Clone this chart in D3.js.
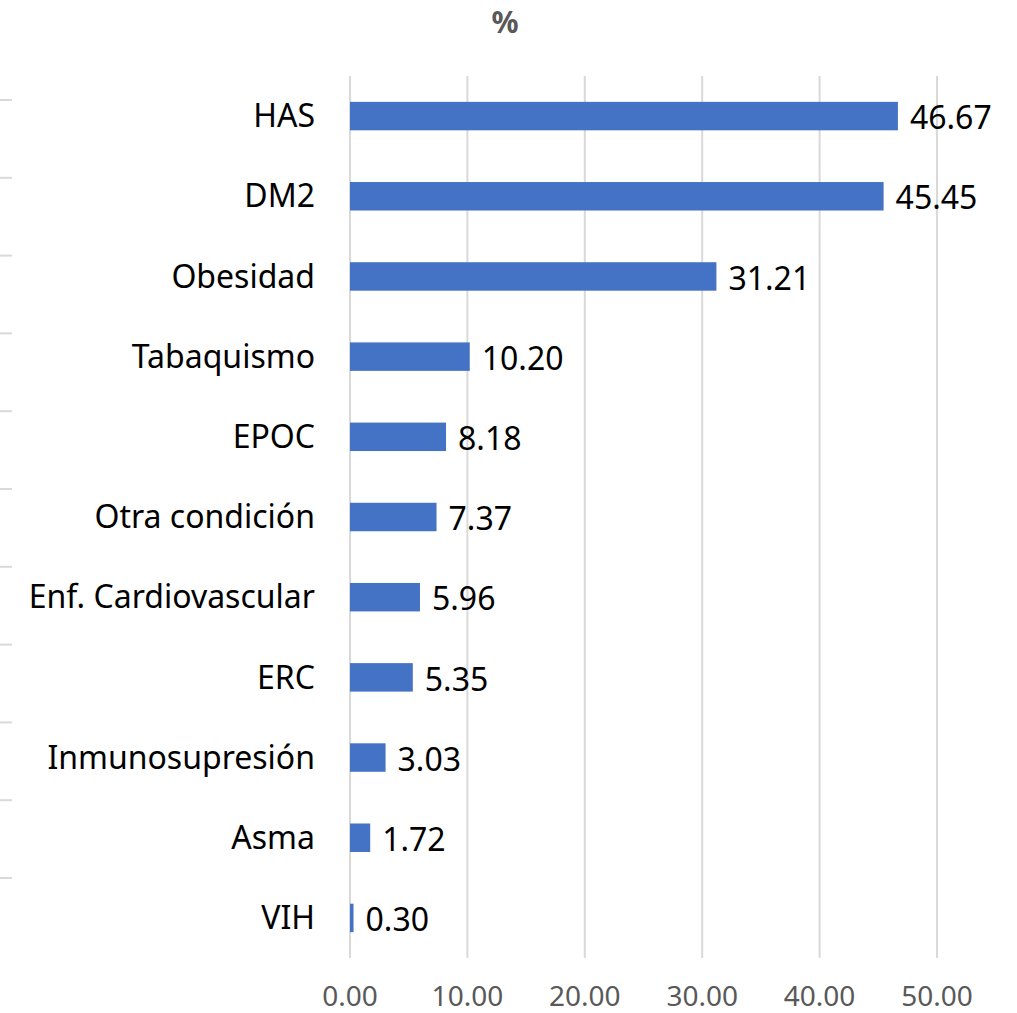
<!DOCTYPE html>
<html lang="es">
<head>
  <meta charset="UTF-8">
  <title>%</title>
  <script src="https://d3js.org/d3.v7.min.js"></script>
  <style>
    body { margin: 0; background: #fff; }
    text { font-family: "Noto Sans", "Open Sans", sans-serif; }
    .grid line { stroke: #d9d9d9; stroke-width: 2px; }
    .bar { fill: #4472c4; }
    .cat-label, .val-label { font-size: 32px; fill: #000; }
    .tick-label { font-size: 28px; fill: #595959; }
  </style>
</head>
<body>
  <div id="chart"></div>

  <script>
    // categorías y valores (%)
    const categories = ["HAS", "DM2", "Obesidad", "Tabaquismo", "EPOC", "Otra condición",
      "Enf. Cardiovascular", "ERC", "Inmunosupresión", "Asma", "VIH"];
    const values = [46.67, 45.45, 31.21, 10.20, 8.18, 7.37, 5.96, 5.35, 3.03, 1.72, 0.30];
    const xTicks = [0, 10, 20, 30, 40, 50];
    const chartTitle = "%";

    const width = 1017, height = 1013;

    const svg = d3.select("#chart").append("svg")
      .attr("width", width)
      .attr("height", height);

    const x = d3.scaleLinear()
      .domain([0, 50])
      .range([350, 937]);

    const y = d3.scaleBand()
      .domain(categories)
      .range([76, 958])
      .padding(0);

    const barH = y.bandwidth() * 0.355;

    // restos de la gráfica vecina (borde izquierdo)
    const leftY = d3.scaleLinear().domain([0, 10]).range([100, 878]);
    svg.append("g")
      .attr("class", "grid")
      .selectAll("line")
      .data(d3.range(0, 11))
      .join("line")
      .attr("x1", 0)
      .attr("x2", 12)
      .attr("y1", d => leftY(d))
      .attr("y2", d => leftY(d));

    // líneas de cuadrícula verticales
    svg.append("g")
      .attr("class", "grid")
      .selectAll("line")
      .data(xTicks)
      .join("line")
      .attr("x1", d => x(d))
      .attr("x2", d => x(d))
      .attr("y1", y.range()[0])
      .attr("y2", y.range()[1]);

    // etiquetas del eje x
    svg.append("g")
      .selectAll("text")
      .data(xTicks)
      .join("text")
      .attr("class", "tick-label")
      .attr("x", d => x(d))
      .attr("y", 1006)
      .attr("text-anchor", "middle")
      .text(d => d.toFixed(2));

    const data = categories.map((c, i) => ({ cat: c, value: values[i] }));

    // barras
    svg.append("g")
      .selectAll("rect")
      .data(data)
      .join("rect")
      .attr("class", "bar")
      .attr("x", x(0))
      .attr("y", d => y(d.cat) + (y.bandwidth() - barH) / 2)
      .attr("width", d => x(d.value) - x(0))
      .attr("height", barH);

    // etiquetas de categorías
    svg.append("g")
      .selectAll("text")
      .data(data)
      .join("text")
      .attr("class", "cat-label")
      .attr("x", 315)
      .attr("y", d => y(d.cat) + y.bandwidth() / 2)
      .attr("dy", "0.35em")
      .attr("text-anchor", "end")
      .text(d => d.cat);

    // etiquetas de valores
    svg.append("g")
      .selectAll("text")
      .data(data)
      .join("text")
      .attr("class", "val-label")
      .attr("x", d => x(d.value) + 12)
      .attr("y", d => y(d.cat) + y.bandwidth() / 2 + 2)
      .attr("dy", "0.35em")
      .text(d => d.value.toFixed(2));

    // título
    svg.append("text")
      .attr("x", 505)
      .attr("y", 33)
      .attr("text-anchor", "middle")
      .style("font-size", "30px")
      .style("font-weight", "bold")
      .style("fill", "#595959")
      .text(chartTitle);
  </script>
</body>
</html>
